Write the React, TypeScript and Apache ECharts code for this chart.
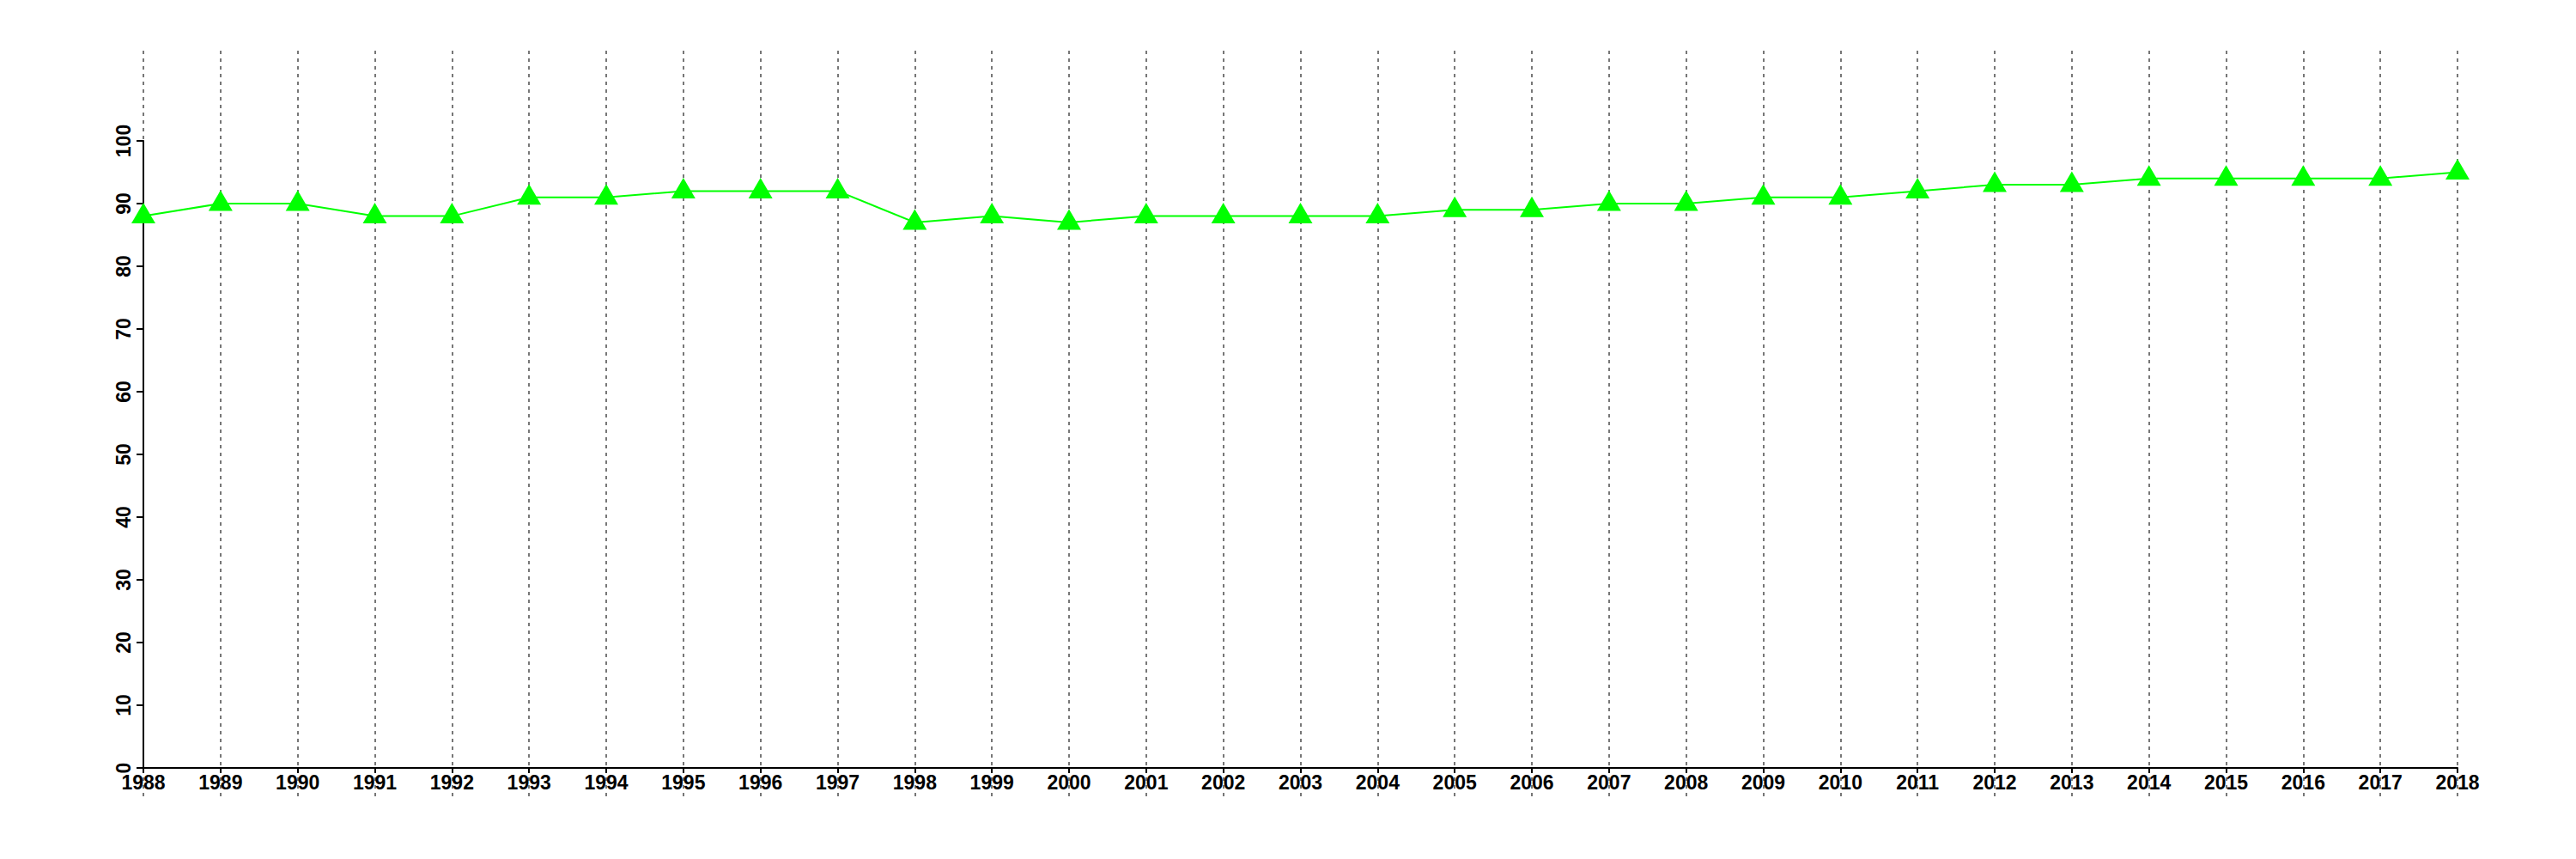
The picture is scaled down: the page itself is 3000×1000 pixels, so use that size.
import React, { useEffect, useRef } from "react";
import * as echarts from "echarts";

const years = [
  "1988", "1989", "1990", "1991", "1992", "1993", "1994", "1995", "1996", "1997",
  "1998", "1999", "2000", "2001", "2002", "2003", "2004", "2005", "2006", "2007",
  "2008", "2009", "2010", "2011", "2012", "2013", "2014", "2015", "2016", "2017", "2018",
];
const values = [
  88, 90, 90, 88, 88, 91, 91, 92, 92, 92,
  87, 88, 87, 88, 88, 88, 88, 89, 89, 90,
  90, 91, 91, 92, 93, 93, 94, 94, 94, 94, 95,
];
const yMin = 0;
const yMax = 100;
const yInterval = 10;

export default function App() {
  const ref = useRef<HTMLDivElement>(null);
  useEffect(() => {
    if (!ref.current) return;
    const chart = echarts.init(ref.current, undefined, { renderer: "svg" });
    const font = "Liberation Sans";
    chart.setOption({
      animation: false,
      backgroundColor: "#ffffff",
      grid: [
        { left: 167, right: 138, top: 164, bottom: 106, containLabel: false },
        { left: 167, right: 138, top: 59, bottom: 73, containLabel: false },
      ],
      xAxis: [
        {
          type: "category",
          gridIndex: 0,
          data: years,
          boundaryGap: false,
          axisLine: { show: true, lineStyle: { color: "#000", width: 2 } },
          axisTick: { show: true, alignWithLabel: true, length: 6, lineStyle: { color: "#000", width: 2 } },
          axisLabel: {
            show: true,
            interval: 0,
            color: "#000",
            fontFamily: font,
            fontWeight: "bold",
            fontSize: 23,
            margin: 5,
          },
          splitLine: { show: false },
          z: 5,
        },
        {
          type: "category",
          gridIndex: 1,
          data: years,
          boundaryGap: false,
          axisLine: { show: false },
          axisTick: { show: false },
          axisLabel: { show: false },
          splitLine: {
            show: true,
            interval: 0,
            lineStyle: { color: "#777777", width: 2, type: [4, 5] },
          },
        },
      ],
      yAxis: [
        {
          type: "value",
          gridIndex: 0,
          min: yMin,
          max: yMax,
          interval: yInterval,
          axisLine: { show: true, lineStyle: { color: "#000", width: 2 } },
          axisTick: { show: true, length: 8, lineStyle: { color: "#000", width: 2 } },
          axisLabel: {
            show: true,
            rotate: 90,
            color: "#000",
            fontFamily: font,
            fontWeight: "bold",
            fontSize: 23,
            margin: 12,
          },
          splitLine: { show: false },
          z: 5,
        },
        {
          type: "value",
          gridIndex: 1,
          show: false,
          splitLine: { show: false },
        },
      ],
      series: [
        {
          type: "line",
          xAxisIndex: 0,
          yAxisIndex: 0,
          data: values,
          symbol: "triangle",
          symbolSize: [28, 24],
          symbolOffset: [0, -3.5],
          showAllSymbol: true,
          lineStyle: { color: "#00ff00", width: 2 },
          itemStyle: { color: "#00ff00" },
          z: 10,
        },
      ],
    });
    return () => chart.dispose();
  }, []);
  return (
    <div
      ref={ref}
      style={{ position: "fixed", left: 0, top: 0, width: 3000, height: 1000, background: "#fff" }}
    />
  );
}
